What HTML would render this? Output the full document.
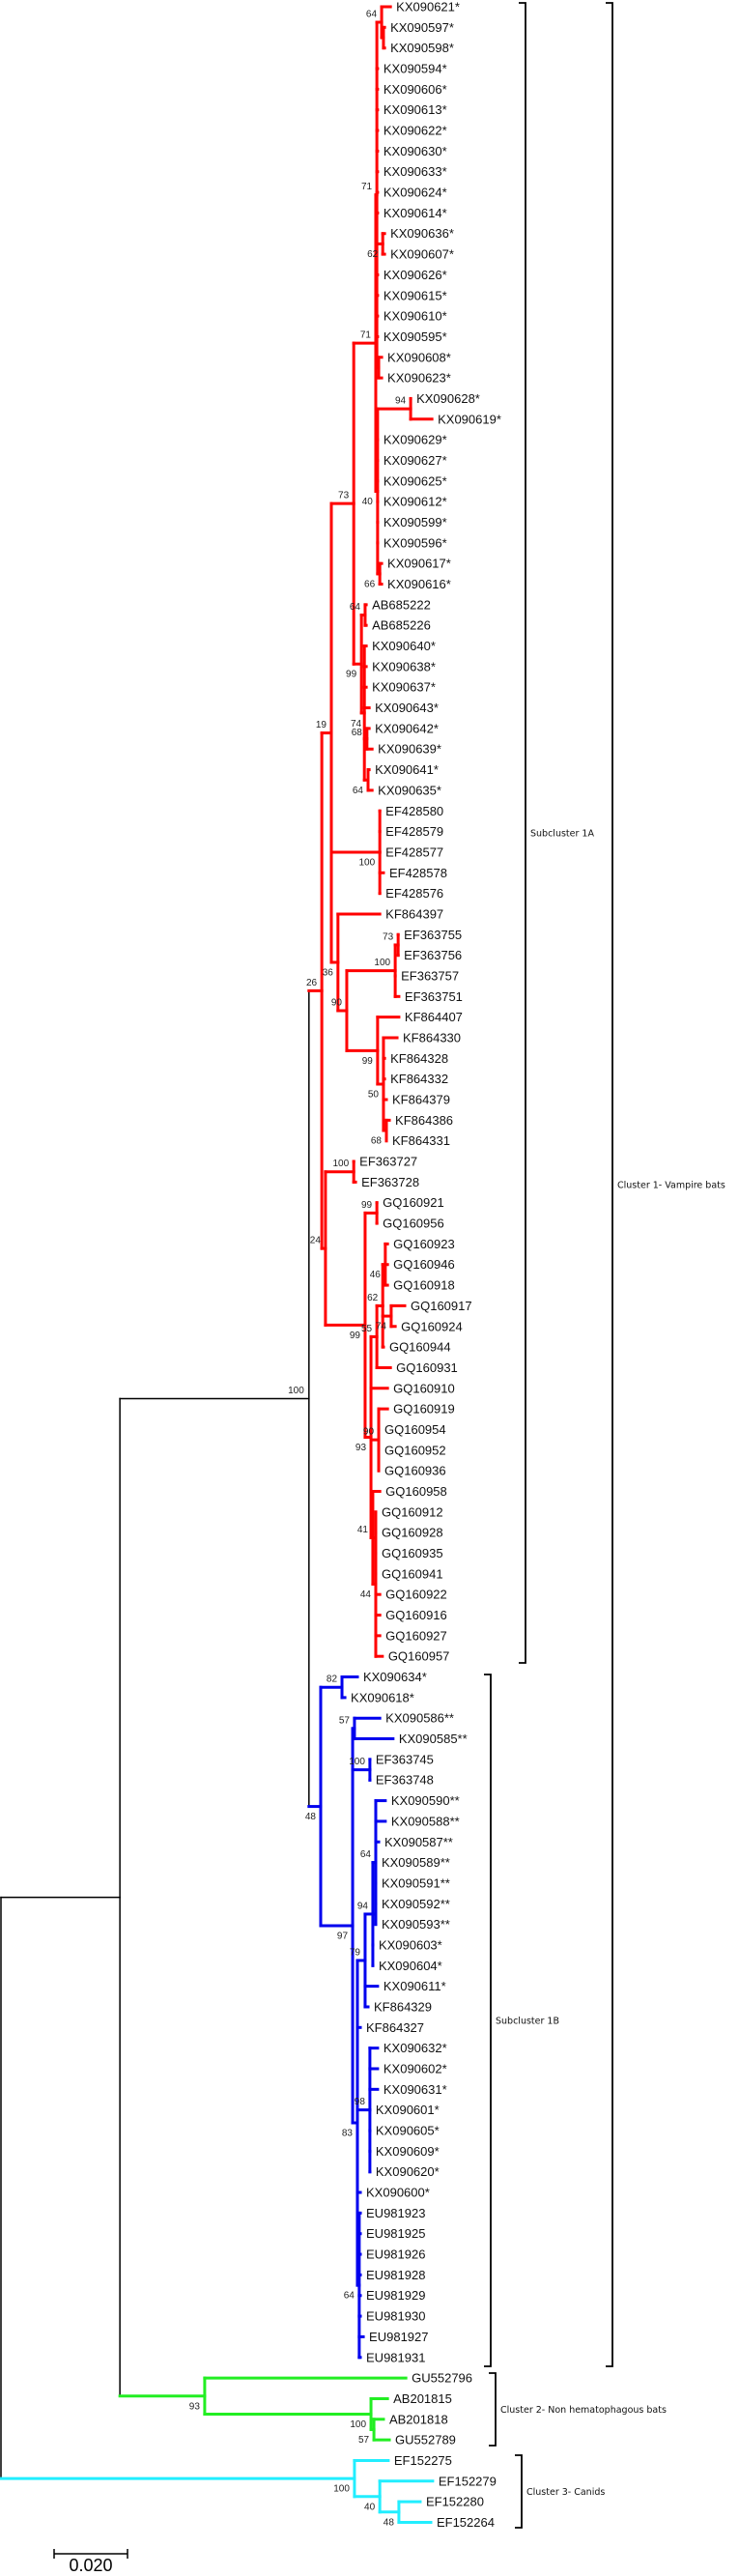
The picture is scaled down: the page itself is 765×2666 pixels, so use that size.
<!DOCTYPE html>
<html><head><meta charset="utf-8">
<style>
html,body{margin:0;padding:0;background:#fff;}
svg{display:block;}
.leaf{font-family:"Liberation Sans",Arial,sans-serif;font-size:13px;fill:#111;}
.bs{font-family:"Liberation Sans",Arial,sans-serif;font-size:10px;fill:#222;}
.cl{font-family:"DejaVu Sans","Liberation Sans",sans-serif;font-size:9.5px;fill:#111;}
</style></head>
<body>
<svg id="tree" width="765" height="2666" viewBox="0 0 765 2666" xmlns="http://www.w3.org/2000/svg">
<rect width="765" height="2666" fill="#fff"/>
<g id="branches"></g>
<g id="labels"></g>
<g id="brackets"></g>
<g>
<path d="M56,2643 H132 M56,2638 V2648 M132,2638 V2648" stroke="#000" stroke-width="1.5" fill="none"/>
<text x="94" y="2661" text-anchor="middle" font-family="Liberation Sans, sans-serif" font-size="18" fill="#000">0.020</text>
</g>
</svg>
<script>
function L(n,d){return {n:n,d:d};}
function N(d,bs,pos,c,col){return {d:d,bs:bs,pos:pos,c:c,col:col};}
const A=-9,B=10;
// branch depths in 0.001 substitutions/site
const tree = N(0,null,0,[
  N(32.4,null,0,[
    N(83.9,'100',A,[
      N(87.4,'26',A,[
        N(90.0,'19',A,[
          N(96.1,'73',A,[
            N(102.1,'71',A,[
              N(102.4,'71',A,[
                N(103.7,'64',A,[L('KX090621*',106.1),N(104.2,null,0,[L('KX090597*',104.5),L('KX090598*',104.5)])]),
                L('KX090594*',102.6),L('KX090606*',102.6),L('KX090613*',102.6),L('KX090622*',102.6),
                L('KX090630*',102.6),L('KX090633*',102.6),L('KX090624*',102.6),L('KX090614*',102.6),
                N(104.0,'62',B,[L('KX090636*',104.5),L('KX090607*',104.5)]),
                L('KX090626*',102.6),L('KX090615*',102.6),L('KX090610*',102.6),L('KX090595*',102.6),
                N(102.9,null,0,[L('KX090608*',103.7),L('KX090623*',103.7)])
              ]),
              N(102.6,'40',B,[
                N(111.6,'94',A,[L('KX090628*',111.6),L('KX090619*',117.4)]),
                L('KX090629*',102.6),L('KX090627*',102.6),L('KX090625*',102.6),L('KX090612*',102.6),
                L('KX090599*',102.6),L('KX090596*',102.6),
                N(103.2,'66',B,[L('KX090617*',103.7),L('KX090616*',103.7)])
              ])
            ]),
            N(98.2,'99',B,[
              N(99.2,'64',A,[L('AB685222',99.5),L('AB685226',99.5)]),
              N(99.0,null,0,[L('KX090640*',99.5),L('KX090638*',99.5),L('KX090637*',99.5),L('KX090643*',100.3),
                N(99.5,'74',-16,[N(99.7,'68',-7,[L('KX090642*',100.3),L('KX090639*',101.1)])]),
                N(100.0,'64',B,[L('KX090641*',100.3),L('KX090635*',101.1)])
              ])
            ])
          ]),
          N(103.2,'100',B,[L('EF428580',103.2),L('EF428579',103.2),L('EF428577',103.2),L('EF428578',104.2),L('EF428576',103.2)]),
          N(91.8,'36',B,[
            L('KF864397',103.2),
            N(94.2,'90',A,[
              N(107.4,'100',A,[N(108.2,'73',A,[L('EF363755',108.2),L('EF363756',108.2)]),L('EF363757',107.4),L('EF363751',108.4)]),
              N(102.6,'99',B,[L('KF864407',108.4),
                N(104.2,'50',B,[L('KF864330',107.9),L('KF864328',104.5),L('KF864332',104.5),L('KF864379',105.0),
                  N(105.0,'68',B,[L('KF864386',105.8),L('KF864331',105.0)])])])
            ])
          ])
        ]),
        N(88.4,'24',A,[
          N(96.1,'100',A,[L('EF363727',96.1),L('EF363728',96.6)]),
          N(99.2,'99',B,[
            N(102.4,'99',A,[L('GQ160921',102.4),L('GQ160956',102.4)]),
            N(100.8,'93',B,[
              N(102.4,'55',A,[
                N(104.0,'62',A,[
                  N(104.7,'46',B,[L('GQ160923',105.3),L('GQ160946',105.3),L('GQ160918',105.3)]),
                  N(106.3,'74',B,[L('GQ160917',110.0),L('GQ160924',107.4)]),
                  L('GQ160944',104.2)
                ]),
                L('GQ160931',106.1)
              ]),
              L('GQ160910',105.3),
              N(102.9,'90',A,[L('GQ160919',105.3),L('GQ160954',102.9),L('GQ160952',102.9),L('GQ160936',102.9)]),
              N(101.3,'41',A,[L('GQ160958',103.2),
                N(102.1,'44',B,[L('GQ160912',102.1),L('GQ160928',102.1),L('GQ160935',102.1),L('GQ160941',102.1),
                  L('GQ160922',103.2),L('GQ160916',103.2),L('GQ160927',103.2),L('GQ160957',103.9)])])
            ])
          ])
        ])
      ],'#ff0000'),
      N(87.1,'48',B,[
        N(92.9,'82',A,[L('KX090634*',97.1),L('KX090618*',93.7)]),
        N(95.8,'97',B,[
          N(96.3,'57',A,[L('KX090586**',103.2),L('KX090585**',106.8)]),
          N(100.5,'100',A,[L('EF363745',100.5),L('EF363748',100.5)]),
          N(97.1,'83',B,[
            N(99.2,'79',A,[
              N(101.3,'94',A,[
                N(102.1,'64',A,[L('KX090590**',104.7),L('KX090588**',104.7),L('KX090587**',102.9),
                  L('KX090589**',102.1),L('KX090591**',102.1),L('KX090592**',102.1),L('KX090593**',102.1)]),
                L('KX090603*',101.3),L('KX090604*',101.3)
              ]),
              L('KX090611*',102.6),L('KF864329',100.0)
            ]),
            L('KF864327',97.9),
            N(100.5,'98',A,[L('KX090632*',102.6),L('KX090602*',102.6),L('KX090631*',102.6),
              L('KX090601*',100.5),L('KX090605*',100.5),L('KX090609*',100.5),L('KX090620*',100.5)]),
            L('KX090600*',97.9),
            N(97.6,'64',B,[L('EU981923',97.9),L('EU981925',97.9),L('EU981926',97.9),L('EU981928',97.9),
              L('EU981929',97.9),L('EU981930',97.9),L('EU981927',98.7),L('EU981931',97.9)])
          ])
        ])
      ],'#0000ee')
    ]),
    N(55.5,'93',B,[
      L('GU552796',110.3),
      N(100.8,'100',B,[L('AB201815',105.3),N(101.6,'57',B,[L('AB201818',104.2),L('GU552789',105.8)])])
    ],'#22ee22')
  ]),
  N(96.3,'100',B,[
    L('EF152275',105.5),
    N(103.2,'40',B,[L('EF152279',117.6),N(108.4,'48',B,[L('EF152280',114.2),L('EF152264',117.1)])])
  ],'#22eeff')
],'#000');

const bracketTops = [3, 1733, 3, 2456, 2541];
const bracketBottoms = [1721, 2449, 2449, 2531, 2616];
const bracketX = [544, 508, 634, 513, 540];
const bracketNames = ['Subcluster 1A','Subcluster 1B','Cluster 1- Vampire bats','Cluster 2- Non hematophagous bats','Cluster 3- Canids'];

const NS='http://www.w3.org/2000/svg';
function xScale(d){return 1 + d*3.8;}
function yScale(i){return 7 + i*21.34;}
let leafIdx=0;
function layout(n,col){
  n.col = n.col || col;
  if(!n.c){ n.y = yScale(leafIdx++); }
  else { n.c.forEach(ch=>layout(ch,n.col)); n.y=(n.c[0].y+n.c[n.c.length-1].y)/2; }
}
layout(tree,'#000');
const gB=document.getElementById('branches');
const gL=document.getElementById('labels');
function line(x1,y1,x2,y2,col){
  const l=document.createElementNS(NS,'line');
  l.setAttribute('x1',x1);l.setAttribute('y1',y1);l.setAttribute('x2',x2);l.setAttribute('y2',y2);
  l.setAttribute('stroke',col);
  l.setAttribute('stroke-width',col==='#000'?1.5:3);
  l.setAttribute('stroke-linecap','square');
  
  
  gB.appendChild(l);
}
function draw(n,parent){
  const x=xScale(n.d);
  if(parent){ line(xScale(parent.d),n.y,x,n.y,n.col); }
  if(n.c){
    if(n.c.length>1) line(x,n.c[0].y,x,n.c[n.c.length-1].y,n.col);
    n.c.forEach(ch=>draw(ch,n));
    if(n.bs){
      const t=document.createElementNS(NS,'text');
      t.setAttribute('x',x-5);t.setAttribute('y',n.y+n.pos+3.5);
      t.setAttribute('text-anchor','end');t.setAttribute('class','bs');
      t.textContent=n.bs;
      
      
      gL.appendChild(t);
    }
  } else {
    const t=document.createElementNS(NS,'text');
    t.setAttribute('x',x+6);t.setAttribute('y',n.y+4.5);
    t.setAttribute('class','leaf');
    t.textContent=n.n;
    
    
    gL.appendChild(t);
  }
}
draw(tree,null);
const gK=document.getElementById('brackets');
bracketNames.forEach((name,i)=>{
  const x=bracketX[i], t0=bracketTops[i], t1=bracketBottoms[i];
  const p=document.createElementNS(NS,'path');
  p.setAttribute('d','M'+(x-7)+','+t0+' H'+x+' V'+t1+' H'+(x-7));
  p.setAttribute('stroke','#000');p.setAttribute('stroke-width','1.8');p.setAttribute('fill','none');
  
  
  gK.appendChild(p);
  const t=document.createElementNS(NS,'text');
  t.setAttribute('x',x+5);t.setAttribute('y',(t0+t1)/2+3.5);
  t.setAttribute('class','cl');
  t.textContent=name;
  
  
  gK.appendChild(t);
});
</script>
</body></html>
